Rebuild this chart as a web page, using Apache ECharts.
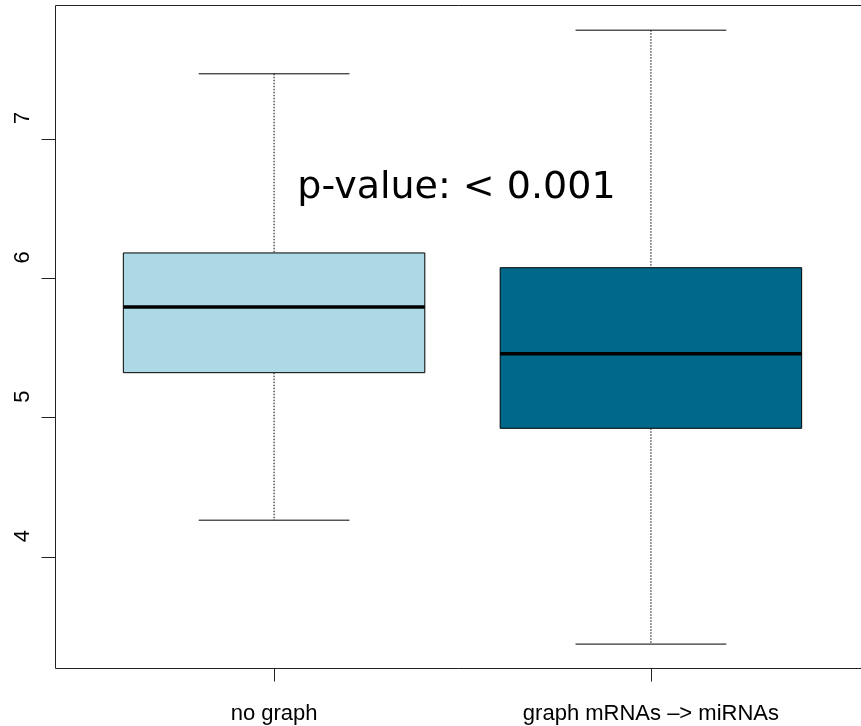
<!DOCTYPE html>
<html>
<head>
<meta charset="utf-8">
<script src="https://cdn.jsdelivr.net/npm/echarts@6/dist/echarts.min.js"></script>
<style>
  html, body { margin: 0; padding: 0; background: #fff; }
  #chart { width: 861px; height: 726px; }
</style>
</head>
<body>
<div id="chart"></div>
<script>
// Group names and five-number summaries of each box
const categories = ['no graph', 'graph mRNAs –> miRNAs'];
const whiskerLow  = [4.265, 3.376];
const lowerQuart  = [5.323, 4.924];
const medians     = [5.794, 5.459];
const upperQuart  = [6.182, 6.076];
const whiskerHigh = [7.467, 7.780];
const boxColors   = ['#ADD8E6', '#00688B'];

// Axis ticks
const yTicks = [4, 5, 6, 7];
const xTicks = [1, 2];

// Annotation
const annotationText = 'p-value: < 0.001';
const annotationPos = [1.484, 6.65];

const boxData = categories.map((c, i) => [
  i + 1, whiskerLow[i], lowerQuart[i], medians[i], upperQuart[i], whiskerHigh[i]
]);

const BOX_HALF = 0.4;
const CAP_HALF = 0.2;

function renderBox(params, api) {
  const x = api.value(0);
  const lo = api.value(1), q1 = api.value(2), med = api.value(3),
        q3 = api.value(4), hi = api.value(5);
  const c = (vx, vy) => api.coord([vx, vy]);
  const dashed = { stroke: '#000', lineWidth: 1, lineDash: [1.5, 1.5] };
  const solid = { stroke: '#000', lineWidth: 1 };
  const pTL = c(x - BOX_HALF, q3), pBR = c(x + BOX_HALF, q1);
  const children = [
    { type: 'line', shape: { x1: c(x, hi)[0], y1: c(x, hi)[1], x2: c(x, q3)[0], y2: c(x, q3)[1] }, style: dashed },
    { type: 'line', shape: { x1: c(x, q1)[0], y1: c(x, q1)[1], x2: c(x, lo)[0], y2: c(x, lo)[1] }, style: dashed },
    { type: 'line', shape: { x1: c(x - CAP_HALF, hi)[0], y1: c(x, hi)[1], x2: c(x + CAP_HALF, hi)[0], y2: c(x, hi)[1] }, style: solid },
    { type: 'line', shape: { x1: c(x - CAP_HALF, lo)[0], y1: c(x, lo)[1], x2: c(x + CAP_HALF, lo)[0], y2: c(x, lo)[1] }, style: solid },
    { type: 'rect', shape: { x: pTL[0], y: pTL[1], width: pBR[0] - pTL[0], height: pBR[1] - pTL[1] },
      style: { fill: boxColors[params.dataIndex], stroke: '#000', lineWidth: 1 } },
    { type: 'line', shape: { x1: pTL[0], y1: c(x, med)[1], x2: pBR[0], y2: c(x, med)[1] },
      style: { stroke: '#000', lineWidth: 3.5 } }
  ];
  return { type: 'group', children };
}

function renderNote(params, api) {
  const p = api.coord([api.value(0), api.value(1)]);
  return {
    type: 'text',
    x: p[0], y: p[1],
    style: {
      text: annotationText,
      fill: '#000',
      font: '38px "DejaVu Sans"',
      align: 'center',
      verticalAlign: 'middle'
    }
  };
}

const chart = echarts.init(document.getElementById('chart'), null, { renderer: 'canvas' });
chart.setOption({
  animation: false,
  backgroundColor: '#fff',
  grid: {
    left: 55.5, top: 5.5, width: 814, height: 663,
    outerBoundsMode: 'none',
    containLabel: false,
    show: true, borderColor: '#222', borderWidth: 1, backgroundColor: 'transparent'
  },
  xAxis: {
    type: 'value', min: 0.42, max: 2.58,
    axisLine: { show: false },
    splitLine: { show: false },
    axisTick: { show: true, customValues: xTicks, length: 13, lineStyle: { color: '#222' } },
    axisLabel: {
      customValues: xTicks, margin: 34,
      formatter: v => categories[Math.round(v) - 1],
      fontFamily: '"Liberation Sans", Arial, sans-serif', fontSize: 22, color: '#000'
    }
  },
  yAxis: {
    type: 'value', min: 3.201, max: 7.957,
    axisLine: { show: false },
    splitLine: { show: false },
    axisTick: { show: true, customValues: yTicks, length: 14, lineStyle: { color: '#222' } },
    axisLabel: {
      customValues: yTicks, rotate: 90, margin: 22,
      padding: [0, 0, 0, 42],
      fontFamily: '"Liberation Sans", Arial, sans-serif', fontSize: 22, color: '#000'
    }
  },
  series: [
    { name: 'boxes', type: 'custom', renderItem: renderBox, data: boxData, clip: false },
    { name: 'note', type: 'custom', renderItem: renderNote, data: [annotationPos], clip: false }
  ]
});
</script>
</body>
</html>
